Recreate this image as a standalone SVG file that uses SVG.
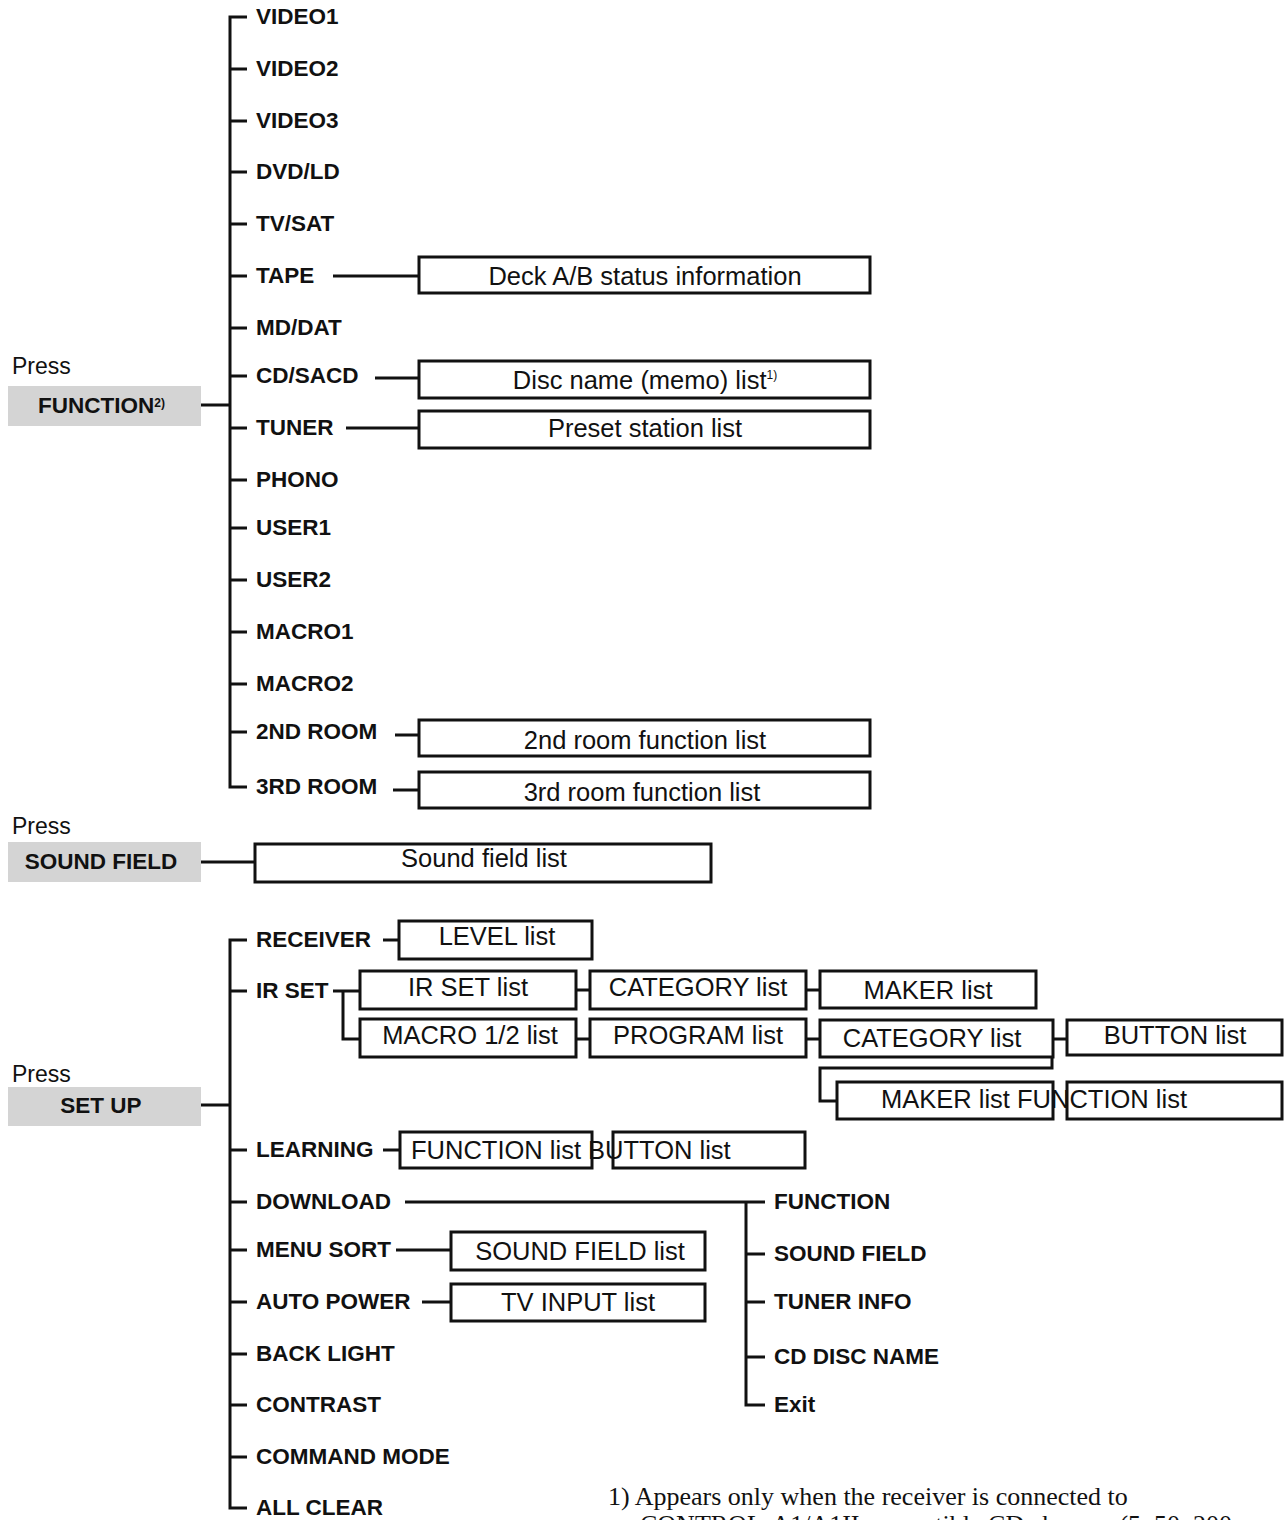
<svg xmlns="http://www.w3.org/2000/svg" width="1287" height="1520" viewBox="0 0 1287 1520">
<style>
.l{font-family:"Liberation Sans",Arial,sans-serif;font-weight:bold;font-size:22.5px;fill:#111}
.t{font-family:"Liberation Sans",Arial,sans-serif;font-size:25.5px;fill:#111}
.p{font-family:"Liberation Sans",Arial,sans-serif;font-size:23px;fill:#111}
.b{fill:#fff;stroke:#111;stroke-width:3}
.g{fill:#d4d4d4}
.c{stroke:#111;stroke-width:3;fill:none}
.f{font-family:"Liberation Serif","Times New Roman",serif;font-size:26px;fill:#111}
</style>
<rect width="1287" height="1520" fill="#fff"/>
<g id="connectors">
<path class="c" d="M247 17H230V787H247M230 69H247M230 121H247M230 172H247M230 224H247M230 276H247M230 328H247M230 376H247M230 428H247M230 480H247M230 528H247M230 580H247M230 632H247M230 684H247M230 732H247M201 405H230"/>
<path class="c" d="M333 276H419M375 378H419M346 428H419M395 735H419M393 790H419"/>
<path class="c" d="M201 862H255"/>
<path class="c" d="M247 940H230V1508H247M230 991H247M230 1150H247M230 1202H247M230 1250H247M230 1302H247M230 1354H247M230 1405H247M230 1457H247M201 1105H230"/>
<path class="c" d="M383 940H399M333 991H360M343 991V1039H360M576 990H590M806 990H820M576 1039H590M806 1039H820M1053 1039H1067M1052 1039V1068H820V1101H837M383 1150H400"/>
<path class="c" d="M405 1202H746V1405H765M746 1202H765M746 1254H765M746 1302H765M746 1357H765M396 1250H451M422 1302H451"/>
</g>
<g id="function">
<text class="p" x="12" y="374">Press</text>
<rect class="g" x="8" y="386" width="193" height="40"/>
<text class="l" x="38" y="413">FUNCTION<tspan font-size="12" dy="-6">2)</tspan></text>
</g>
<g id="function-items">
<text class="l" x="256" y="24">VIDEO1</text>
<text class="l" x="256" y="76">VIDEO2</text>
<text class="l" x="256" y="128">VIDEO3</text>
<text class="l" x="256" y="179">DVD/LD</text>
<text class="l" x="256" y="231">TV/SAT</text>
<text class="l" x="256" y="283">TAPE</text>
<text class="l" x="256" y="335">MD/DAT</text>
<text class="l" x="256" y="383">CD/SACD</text>
<text class="l" x="256" y="435">TUNER</text>
<text class="l" x="256" y="487">PHONO</text>
<text class="l" x="256" y="535">USER1</text>
<text class="l" x="256" y="587">USER2</text>
<text class="l" x="256" y="639">MACRO1</text>
<text class="l" x="256" y="691">MACRO2</text>
<text class="l" x="256" y="739">2ND ROOM</text>
<text class="l" x="256" y="794">3RD ROOM</text>
</g>
<g id="function-boxes">
<rect class="b" x="419" y="257" width="451" height="36"/><text class="t" x="645" y="285" text-anchor="middle">Deck A/B status information</text>
<rect class="b" x="419" y="361" width="451" height="37"/><text class="t" x="645" y="389" text-anchor="middle">Disc name (memo) list<tspan font-size="12" dy="-10">1)</tspan></text>
<rect class="b" x="419" y="411" width="451" height="37"/><text class="t" x="645" y="437" text-anchor="middle">Preset station list</text>
<rect class="b" x="419" y="720" width="451" height="36"/><text class="t" x="645" y="749" text-anchor="middle">2nd room function list</text>
<rect class="b" x="419" y="772" width="451" height="36"/><text class="t" x="642" y="801" text-anchor="middle">3rd room function list</text>
</g>
<g id="soundfield">
<text class="p" x="12" y="834">Press</text>
<rect class="g" x="8" y="842" width="193" height="40"/>
<text class="l" x="101" y="869" text-anchor="middle">SOUND FIELD</text>
<rect class="b" x="255" y="844" width="456" height="38"/><text class="t" x="484" y="867" text-anchor="middle">Sound field list</text>
</g>
<g id="setup">
<text class="p" x="12" y="1082">Press</text>
<rect class="g" x="8" y="1087" width="193" height="39"/>
<text class="l" x="101" y="1113" text-anchor="middle">SET UP</text>
</g>
<g id="setup-items">
<text class="l" x="256" y="947">RECEIVER</text>
<text class="l" x="256" y="998">IR SET</text>
<text class="l" x="256" y="1157">LEARNING</text>
<text class="l" x="256" y="1209">DOWNLOAD</text>
<text class="l" x="256" y="1257">MENU SORT</text>
<text class="l" x="256" y="1309">AUTO POWER</text>
<text class="l" x="256" y="1361">BACK LIGHT</text>
<text class="l" x="256" y="1412">CONTRAST</text>
<text class="l" x="256" y="1464">COMMAND MODE</text>
<text class="l" x="256" y="1515">ALL CLEAR</text>
<text class="l" x="774" y="1209">FUNCTION</text>
<text class="l" x="774" y="1261">SOUND FIELD</text>
<text class="l" x="774" y="1309">TUNER INFO</text>
<text class="l" x="774" y="1364">CD DISC NAME</text>
<text class="l" x="774" y="1412">Exit</text>
</g>
<g id="setup-boxes">
<rect class="b" x="399" y="921" width="193" height="38"/><text class="t" x="497" y="945" text-anchor="middle">LEVEL list</text>
<rect class="b" x="360" y="971" width="216" height="38"/><text class="t" x="468" y="996" text-anchor="middle">IR SET list</text>
<rect class="b" x="590" y="971" width="216" height="38"/><text class="t" x="698" y="996" text-anchor="middle">CATEGORY list</text>
<rect class="b" x="820" y="971" width="216" height="37"/><text class="t" x="928" y="999" text-anchor="middle">MAKER list</text>
<rect class="b" x="360" y="1019" width="216" height="38"/><text class="t" x="470" y="1044" text-anchor="middle">MACRO 1/2 list</text>
<rect class="b" x="590" y="1019" width="216" height="38"/><text class="t" x="698" y="1044" text-anchor="middle">PROGRAM list</text>
<rect class="b" x="820" y="1020" width="233" height="37"/><text class="t" x="932" y="1047" text-anchor="middle">CATEGORY list</text>
<rect class="b" x="1067" y="1020" width="215" height="35"/><text class="t" x="1175" y="1044" text-anchor="middle">BUTTON list</text>
<rect class="b" x="837" y="1082" width="216" height="37"/>
<rect class="b" x="1067" y="1082" width="215" height="37"/>
<text class="t" x="881" y="1108">MAKER list FUNCTION list</text>
<rect class="b" x="400" y="1132" width="192" height="36"/>
<rect class="b" x="613" y="1132" width="192" height="36"/>
<text class="t" x="411" y="1159">FUNCTION list BUTTON list</text>
<rect class="b" x="451" y="1232" width="254" height="38"/><text class="t" x="580" y="1260" text-anchor="middle">SOUND FIELD list</text>
<rect class="b" x="451" y="1284" width="254" height="37"/><text class="t" x="578" y="1311" text-anchor="middle">TV INPUT list</text>
</g>
<g id="footnote">
<text class="f" x="608" y="1505">1) Appears only when the receiver is connected to</text>
<text class="f" x="640" y="1533">CONTROL-A1/A1II compatible CD changer (5, 50, 200</text>
</g>
</svg>
